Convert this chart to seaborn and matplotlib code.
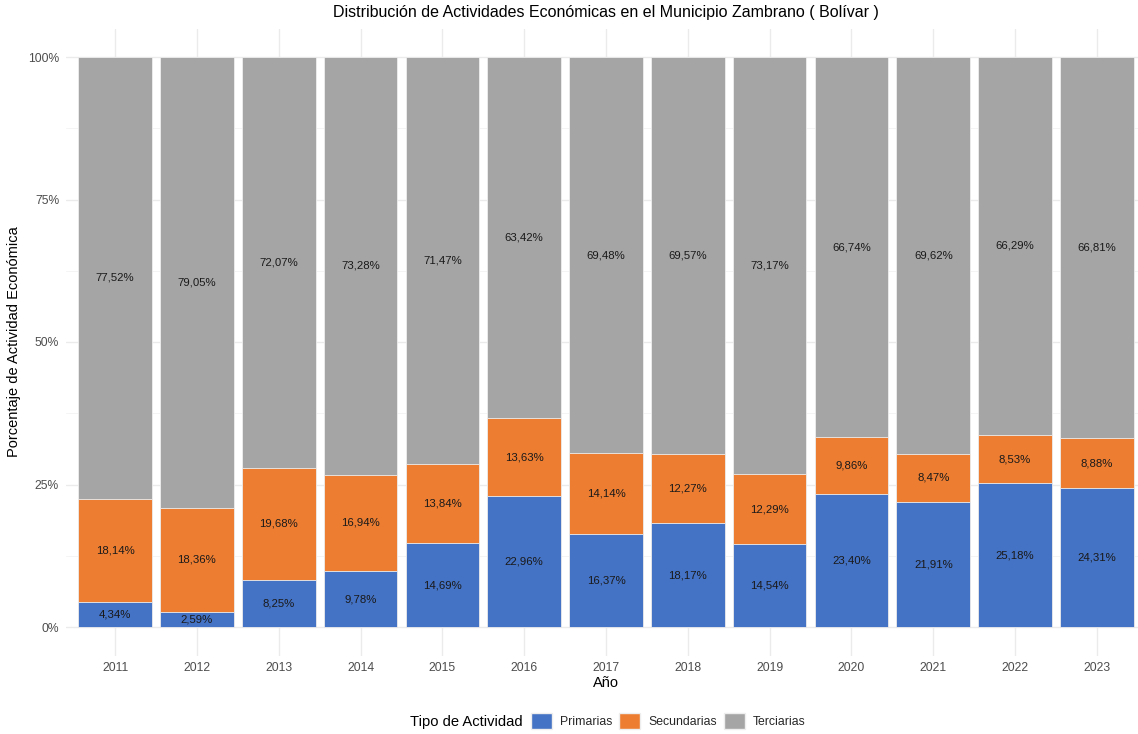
import matplotlib
matplotlib.use("Agg")
import matplotlib.pyplot as plt
import seaborn as sns
import pandas as pd
import numpy as np
from matplotlib.patches import Patch

years = ["2011", "2012", "2013", "2014", "2015", "2016", "2017", "2018", "2019", "2020", "2021", "2022", "2023"]
primarias = [4.34, 2.59, 8.25, 9.78, 14.69, 22.96, 16.37, 18.17, 14.54, 23.40, 21.91, 25.18, 24.31]
secundarias = [18.14, 18.36, 19.68, 16.94, 13.84, 13.63, 14.14, 12.27, 12.29, 9.86, 8.47, 8.53, 8.88]
terciarias = [77.52, 79.05, 72.07, 73.28, 71.47, 63.42, 69.48, 69.57, 73.17, 66.74, 69.62, 66.29, 66.81]
categories = ["Primarias", "Secundarias", "Terciarias"]
colors = ["#4472C4", "#ED7D31", "#A5A5A5"]

sns.set_theme(style="whitegrid")
plt.rcParams["font.family"] = ["Liberation Sans", "DejaVu Sans"]

df = pd.DataFrame({"Año": years, "Primarias": primarias,
                   "Secundarias": secundarias, "Terciarias": terciarias})
p = np.array(primarias)
s = np.array(secundarias)
t = np.array(terciarias)
tot = p + s + t
df["P_pct"] = p / tot * 100
df["S_pct"] = s / tot * 100
df["T_pct"] = t / tot * 100
df["top_T"] = 100.0
df["top_S"] = df["P_pct"] + df["S_pct"]
df["top_P"] = df["P_pct"]

W, H = 1138, 734
fig = plt.figure(figsize=(W / 100, H / 100), dpi=100)
left, right, top, bottom = 66, 1146, 28.5, 655.5
ax = fig.add_axes([left / W, 1 - bottom / H, (right - left) / W, (bottom - top) / H])

for col, c in zip(["top_T", "top_S", "top_P"], colors[::-1]):
    sns.barplot(data=df, x="Año", y=col, color=c, width=0.9, ax=ax,
                edgecolor="#eeeeee", linewidth=0.6, saturation=1)

ax.set_xlim(-0.6, len(years) - 0.4)
ax.set_ylim(-5, 105)
ax.set_yticks([0, 25, 50, 75, 100])
ax.set_yticklabels(["0%", "25%", "50%", "75%", "100%"])
ax.set_yticks([12.5, 37.5, 62.5, 87.5], minor=True)
ax.grid(True, which="major", color="#ebebeb", linewidth=1.0)
ax.grid(True, which="minor", axis="y", color="#f2f2f2", linewidth=0.6)
ax.set_axisbelow(True)
for sp in ax.spines.values():
    sp.set_visible(False)
ax.tick_params(axis="both", which="both", length=0, labelsize=8.7, labelcolor="#4d4d4d", pad=5)

def fmt(v):
    return f"{v:.2f}%".replace(".", ",")

for i in range(len(years)):
    pp, ss, tt = df["P_pct"][i], df["S_pct"][i], df["T_pct"][i]
    ax.text(i, pp / 2, fmt(primarias[i]), ha="center", va="center", fontsize=8.2, color="#1a1a1a")
    ax.text(i, pp + ss / 2, fmt(secundarias[i]), ha="center", va="center", fontsize=8.2, color="#1a1a1a")
    ax.text(i, pp + ss + tt / 2, fmt(terciarias[i]), ha="center", va="center", fontsize=8.2, color="#1a1a1a")

ax.set_xlabel("Año", fontsize=10.5, color="black", labelpad=1)
ax.set_ylabel("Porcentaje de Actividad Económica", fontsize=10.5, color="black", labelpad=5)
fig.text(606 / W, 1 - 13 / H, "Distribución de Actividades Económicas en el Municipio Zambrano ( Bolívar )",
         ha="center", va="center", fontsize=11.5, color="black")

handles = [Patch(facecolor=c, edgecolor="#eeeeee", label=l) for c, l in zip(colors, categories)]
fig.text(410 / W, 1 - 722 / H, "Tipo de Actividad", ha="left", va="center", fontsize=10.6, color="black")
leg = fig.legend(handles=handles, loc="center left", bbox_to_anchor=(531 / W, 1 - 721 / H),
                 ncol=3, frameon=False, fontsize=8.8, handlelength=1.7, handleheight=1.7,
                 handletextpad=0.65, columnspacing=0.6, borderpad=0, borderaxespad=0)

fig.savefig("out.png", dpi=100)
